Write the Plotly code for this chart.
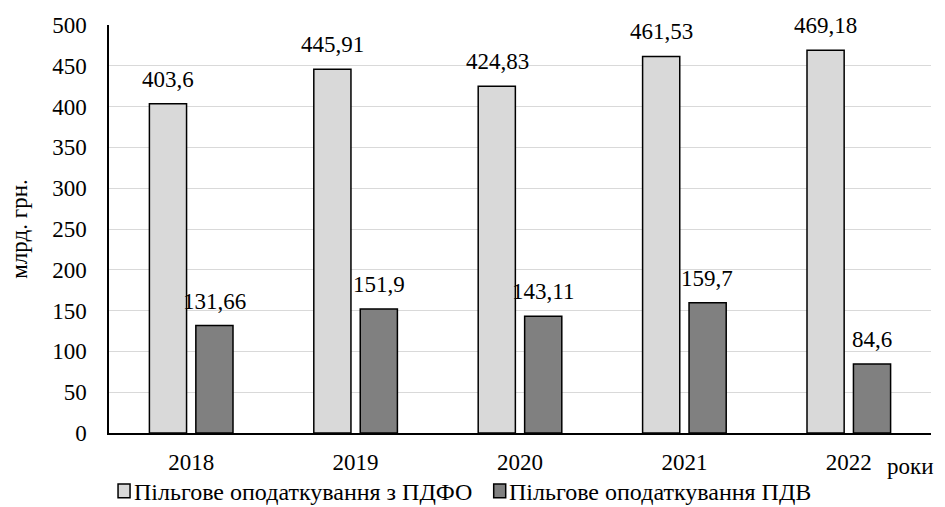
import plotly.graph_objects as go

years = ["2018", "2019", "2020", "2021", "2022"]
pdfo = [403.6, 445.91, 424.83, 461.53, 469.18]
pdv = [131.66, 151.9, 143.11, 159.7, 84.6]
y_ticks = [0, 50, 100, 150, 200, 250, 300, 350, 400, 450, 500]

name_pdfo = "Пільгове оподаткування з ПДФО"
name_pdv = "Пільгове оподаткування ПДВ"
color_pdfo = "#d9d9d9"
color_pdv = "#808080"


def fmt(v):
    return f"{v:g}".replace(".", ",")


FONT = "Liberation Serif"
FS = 23

fig = go.Figure()
fig.add_trace(go.Bar(
    x=years, y=pdfo, name=name_pdfo,
    marker=dict(color=color_pdfo, line=dict(color="#000000", width=1.5)),
))
fig.add_trace(go.Bar(
    x=years, y=pdv, name=name_pdv,
    marker=dict(color=color_pdv, line=dict(color="#000000", width=1.5)),
))

# value labels above each bar; x is the category index on the category axis
for vals, shift in ((pdfo, -23), (pdv, 23)):
    for idx, v in enumerate(vals):
        fig.add_annotation(
            x=idx, y=v, text=fmt(v), xref="x", yref="y",
            xanchor="center", yanchor="bottom", xshift=shift, yshift=10,
            showarrow=False,
            font=dict(family=FONT, size=FS, color="#000000"),
        )

# legend row below the axis: small outlined squares followed by the names
legend_items = [(name_pdfo, color_pdfo, 0.011), (name_pdv, color_pdv, 0.468)]
for name, col, x0 in legend_items:
    fig.add_shape(
        type="rect", xref="paper", yref="paper",
        x0=x0, x1=x0 + 0.0146, y0=-0.125, y1=-0.159,
        fillcolor=col, line=dict(color="#000000", width=1.5),
    )
    fig.add_annotation(
        text=name, xref="paper", yref="paper", x=x0 + 0.0165, y=-0.144,
        xanchor="left", yanchor="middle", showarrow=False,
        font=dict(family=FONT, size=24, color="#000000"),
    )

fig.update_layout(
    width=945, height=507,
    margin=dict(l=109, r=14, t=25, b=74, autoexpand=False),
    paper_bgcolor="white", plot_bgcolor="white",
    barmode="group", bargap=0.435, bargroupgap=0.2,
    font=dict(family=FONT, size=FS, color="#000000"),
    showlegend=False,
)
fig.update_xaxes(
    type="category",
    showline=True, linecolor="#000000", linewidth=1.5,
    showgrid=False, ticks="", tickfont=dict(family=FONT, size=FS),
    ticklabelstandoff=8,
)
fig.update_yaxes(
    range=[0, 500], tickvals=y_ticks,
    showline=True, linecolor="#000000", linewidth=1.5,
    showgrid=True, gridcolor="#d9d9d9", gridwidth=1,
    ticks="", tickfont=dict(family=FONT, size=FS),
    ticklabelstandoff=16,
    title=dict(text="млрд. грн.", font=dict(family=FONT, size=FS), standoff=18),
    zeroline=False,
)
fig.add_annotation(
    text="роки", xref="paper", yref="paper", x=0.974, y=-0.083,
    xanchor="center", yanchor="middle", showarrow=False,
    font=dict(family=FONT, size=FS, color="#000000"),
)

fig.write_html("out.html")
